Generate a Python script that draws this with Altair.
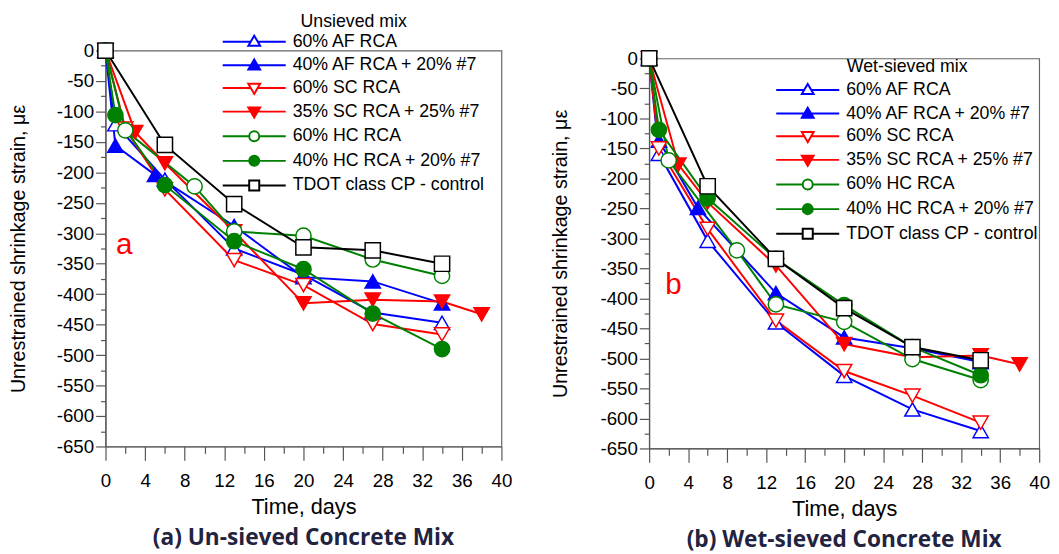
import altair as alt
import pandas as pd

SERIES = ["60% AF RCA", "40% AF RCA + 20% #7", "60% SC RCA", "35% SC RCA + 25% #7",
          "60% HC RCA", "40% HC RCA + 20% #7", "TDOT class CP - control"]
COLORS = ["#0000ff", "#0000ff", "#ff0000", "#ff0000", "#008000", "#008000", "#000000"]
FILLS = ["#ffffff", "#0000ff", "#ffffff", "#ff0000", "#ffffff", "#008000", "#ffffff"]
SHAPES = ["triangle-up", "triangle-up", "triangle-down", "triangle-down", "circle", "circle", "square"]

# ---- panel (a) un-sieved ----
a_af60_days = [0, 1, 6, 13, 20, 27, 34]
a_af60 = [0, -121, -212, -325, -368, -430, -447]
a_af40_days = [0, 1, 5, 13, 20, 27, 34]
a_af40 = [0, -156, -204, -288, -372, -379, -415]
a_sc60_days = [0, 2, 6, 13, 20, 27, 34]
a_sc60 = [0, -128, -228, -344, -385, -449, -466]
a_sc35_days = [0, 3, 6, 13, 20, 27, 34, 38]
a_sc35 = [0, -134, -185, -297, -415, -409, -412, -433]
a_hc60_days = [0, 2, 9, 13, 20, 27, 34]
a_hc60 = [0, -131, -223, -297, -304, -343, -370]
a_hc40_days = [0, 1, 6, 13, 20, 27, 34]
a_hc40 = [0, -106, -221, -313, -359, -432, -490]
a_tdot_days = [0, 6, 13, 20, 27, 34]
a_tdot = [0, -155, -252, -323, -328, -350]

# ---- panel (b) wet-sieved ----
b_af60_days = [0, 1, 6, 13, 20, 27, 34]
b_af60 = [0, -159, -304, -440, -529, -585, -621]
b_af40_days = [0, 1, 5, 13, 20, 27, 34]
b_af40 = [0, -137, -249, -391, -465, -483, -506]
b_sc60_days = [0, 1, 6, 13, 20, 27, 34]
b_sc60 = [0, -150, -284, -437, -521, -562, -607]
b_sc35_days = [0, 3, 6, 13, 20, 27, 34, 38]
b_sc35 = [0, -177, -240, -345, -476, -498, -495, -510]
b_hc60_days = [0, 2, 9, 13, 20, 27, 34]
b_hc60 = [0, -170, -320, -410, -439, -501, -536]
b_hc40_days = [0, 1, 6, 13, 20, 27, 34]
b_hc40 = [0, -119, -233, -334, -411, -481, -528]
b_tdot_days = [0, 6, 13, 20, 27, 34]
b_tdot = [0, -213, -334, -416, -481, -503]

X_MAJOR = list(range(0, 41, 4))
X_MINOR = list(range(2, 40, 4))
Y_MAJOR = list(range(0, -651, -50))
Y_MINOR = list(range(-25, -651, -50))

FONT = "Liberation Sans"

# legend symbols: line + marker (unit: sqrt(size)/2 px)
L = 5.33
LEG_PATHS = [
    f"M-{L},0H-0.59M0.59,0H{L}M0,-1L1,0.7L-1,0.7Z",
    f"M-{L},0H-0.59M0.59,0H{L}M0,-1L1,0.7L-1,0.7Z",
    f"M-{L},0H-0.59M0.59,0H{L}M0,1L1,-0.7L-1,-0.7Z",
    f"M-{L},0H-0.59M0.59,0H{L}M0,1L1,-0.7L-1,-0.7Z",
    f"M-{L},0H-0.85M0.85,0H{L}M0.85,0A0.85,0.85 0 1,1 -0.85,0A0.85,0.85 0 1,1 0.85,0Z",
    f"M-{L},0H-0.85M0.85,0H{L}M0.85,0A0.85,0.85 0 1,1 -0.85,0A0.85,0.85 0 1,1 0.85,0Z",
    f"M-{L},0H-0.85M0.85,0H{L}M-0.85,-0.85H0.85V0.85H-0.85Z",
]


def make_df(groups):
    rows = []
    for name, days, vals in groups:
        for d, v in zip(days, vals):
            rows.append({"series": name, "day": d, "strain": v})
    return pd.DataFrame(rows)


def panel(df, legend_title, letter, letter_day, letter_val, caption, w, h, lx, ly, tpad, ytpad):
    xs = alt.Scale(domain=[0, 40], nice=False)
    ys = alt.Scale(domain=[-650, 0], nice=False)
    major_x = alt.Axis(values=X_MAJOR, tickSize=14, labelPadding=12, labelFlush=False,
                       title="Time, days", titlePadding=6, titleFontSize=22, orient="bottom")
    major_y = alt.Axis(values=Y_MAJOR, tickSize=10, labelPadding=2, labelFlush=False,
                       title="Unrestrained shrinkage strain, με", titlePadding=ytpad, orient="left",
                       labelExpr="datum.value == 0 ? '0' : '-' + abs(datum.value)")
    lines = alt.Chart(df).mark_line(strokeWidth=2).encode(
        x=alt.X("day:Q", scale=xs, axis=major_x),
        y=alt.Y("strain:Q", scale=ys, axis=major_y),
        color=alt.Color("series:N", scale=alt.Scale(domain=SERIES, range=COLORS), legend=None),
        order="day:Q",
    )
    minor = alt.Chart(df).mark_point(opacity=0).encode(
        x=alt.X("day:Q", scale=xs, axis=alt.Axis(values=X_MINOR, tickSize=7, labels=False,
                                                  domain=False, title=None, orient="bottom")),
        y=alt.Y("strain:Q", scale=ys, axis=alt.Axis(values=Y_MINOR, tickSize=5, labels=False,
                                                     domain=False, title=None, orient="left")),
    )
    pts = alt.Chart(df).mark_point(filled=True, opacity=1, strokeWidth=1.5, size=240).encode(
        x=alt.X("day:Q", scale=xs, axis=None),
        y=alt.Y("strain:Q", scale=ys, axis=None),
        shape=alt.Shape("series:N", scale=alt.Scale(domain=SERIES, range=SHAPES), legend=None),
        stroke=alt.Stroke("series:N", scale=alt.Scale(domain=SERIES, range=COLORS), legend=None),
        fill=alt.Fill("series:N", scale=alt.Scale(domain=SERIES, range=FILLS), legend=None),
    )
    leg = dict(title=legend_title, orient="none", legendX=lx, legendY=ly, symbolSize=144,
               symbolStrokeWidth=2, symbolOffset=24, labelOffset=30, rowPadding=5,
               labelFont=FONT, labelFontSize=18, labelColor="black", labelLimit=400,
               titleFont=FONT, titleFontSize=18, titleFontWeight="normal", titleColor="black",
               titleAnchor="middle", titlePadding=tpad, padding=0, symbolOpacity=1)
    legend_layer = alt.Chart(df).mark_point(filled=True, opacity=1, strokeWidth=2).encode(
        x=alt.X("day:Q", scale=xs, axis=None),
        y=alt.Y("strain:Q", scale=ys, axis=None),
        shape=alt.Shape("series:N", scale=alt.Scale(domain=SERIES, range=LEG_PATHS),
                        legend=alt.Legend(**leg)),
        stroke=alt.Stroke("series:N", scale=alt.Scale(domain=SERIES, range=COLORS),
                          legend=alt.Legend(**leg)),
        fill=alt.Fill("series:N", scale=alt.Scale(domain=SERIES, range=FILLS),
                      legend=alt.Legend(**leg)),
    ).transform_filter("false")
    txt = alt.Chart(pd.DataFrame({"t": [letter], "d": [letter_day], "v": [letter_val]})).mark_text(
        color="#ff0000", fontSize=30, font=FONT).encode(
        x=alt.X("d:Q", scale=xs, axis=None),
        y=alt.Y("v:Q", scale=ys, axis=None),
        text="t:N",
    )
    return alt.layer(lines, minor, pts, legend_layer, txt).resolve_axis(
        x="independent", y="independent"
    ).resolve_scale(
        shape="independent", stroke="independent", fill="independent"
    ).resolve_legend(
        shape="independent", stroke="independent", fill="independent"
    ).properties(
        width=w, height=h,
        title=alt.TitleParams(caption, orient="bottom", anchor="middle", font="Open Sans",
                              fontSize=23, fontWeight="bold", color="#23233f", offset=10),
    )


df_a = make_df([
    (SERIES[0], a_af60_days, a_af60), (SERIES[1], a_af40_days, a_af40),
    (SERIES[2], a_sc60_days, a_sc60), (SERIES[3], a_sc35_days, a_sc35),
    (SERIES[4], a_hc60_days, a_hc60), (SERIES[5], a_hc40_days, a_hc40),
    (SERIES[6], a_tdot_days, a_tdot),
])
df_b = make_df([
    (SERIES[0], b_af60_days, b_af60), (SERIES[1], b_af40_days, b_af40),
    (SERIES[2], b_sc60_days, b_sc60), (SERIES[3], b_sc35_days, b_sc35),
    (SERIES[4], b_hc60_days, b_hc60), (SERIES[5], b_hc40_days, b_hc40),
    (SERIES[6], b_tdot_days, b_tdot),
])

left = panel(df_a, "Unsieved mix", "a", 1.9, -320, "(a) Un-sieved Concrete Mix",
             402, 402, 118, -38, 2, 28)
right = panel(df_b, "Wet-sieved mix", "b", 2.5, -377, "(b) Wet-sieved Concrete Mix",
              396, 396, 128, 0, 5, 30)

spacer = alt.Chart(pd.DataFrame({"v": [0]})).mark_point(opacity=0).encode(
    x=alt.value(0), y=alt.value(0)
).properties(width=10, height=8, view=alt.ViewBackground(stroke=None))

right_col = alt.vconcat(spacer, right, spacing=0, bounds="flush")

chart = alt.hconcat(left, right_col, spacing=150, bounds="flush").configure_view(
    stroke="#666666", strokeWidth=1.2
).configure_axis(
    labelFont=FONT, labelFontSize=19, labelColor="black",
    titleFont=FONT, titleFontSize=20, titleFontWeight="normal", titleColor="black",
    domainColor="#555555", tickColor="#555555", grid=False, domainWidth=1.2, tickWidth=1.2,
).properties(background="white", padding=0)

chart.save("out.html", embed_options={"renderer": "svg", "actions": False})
